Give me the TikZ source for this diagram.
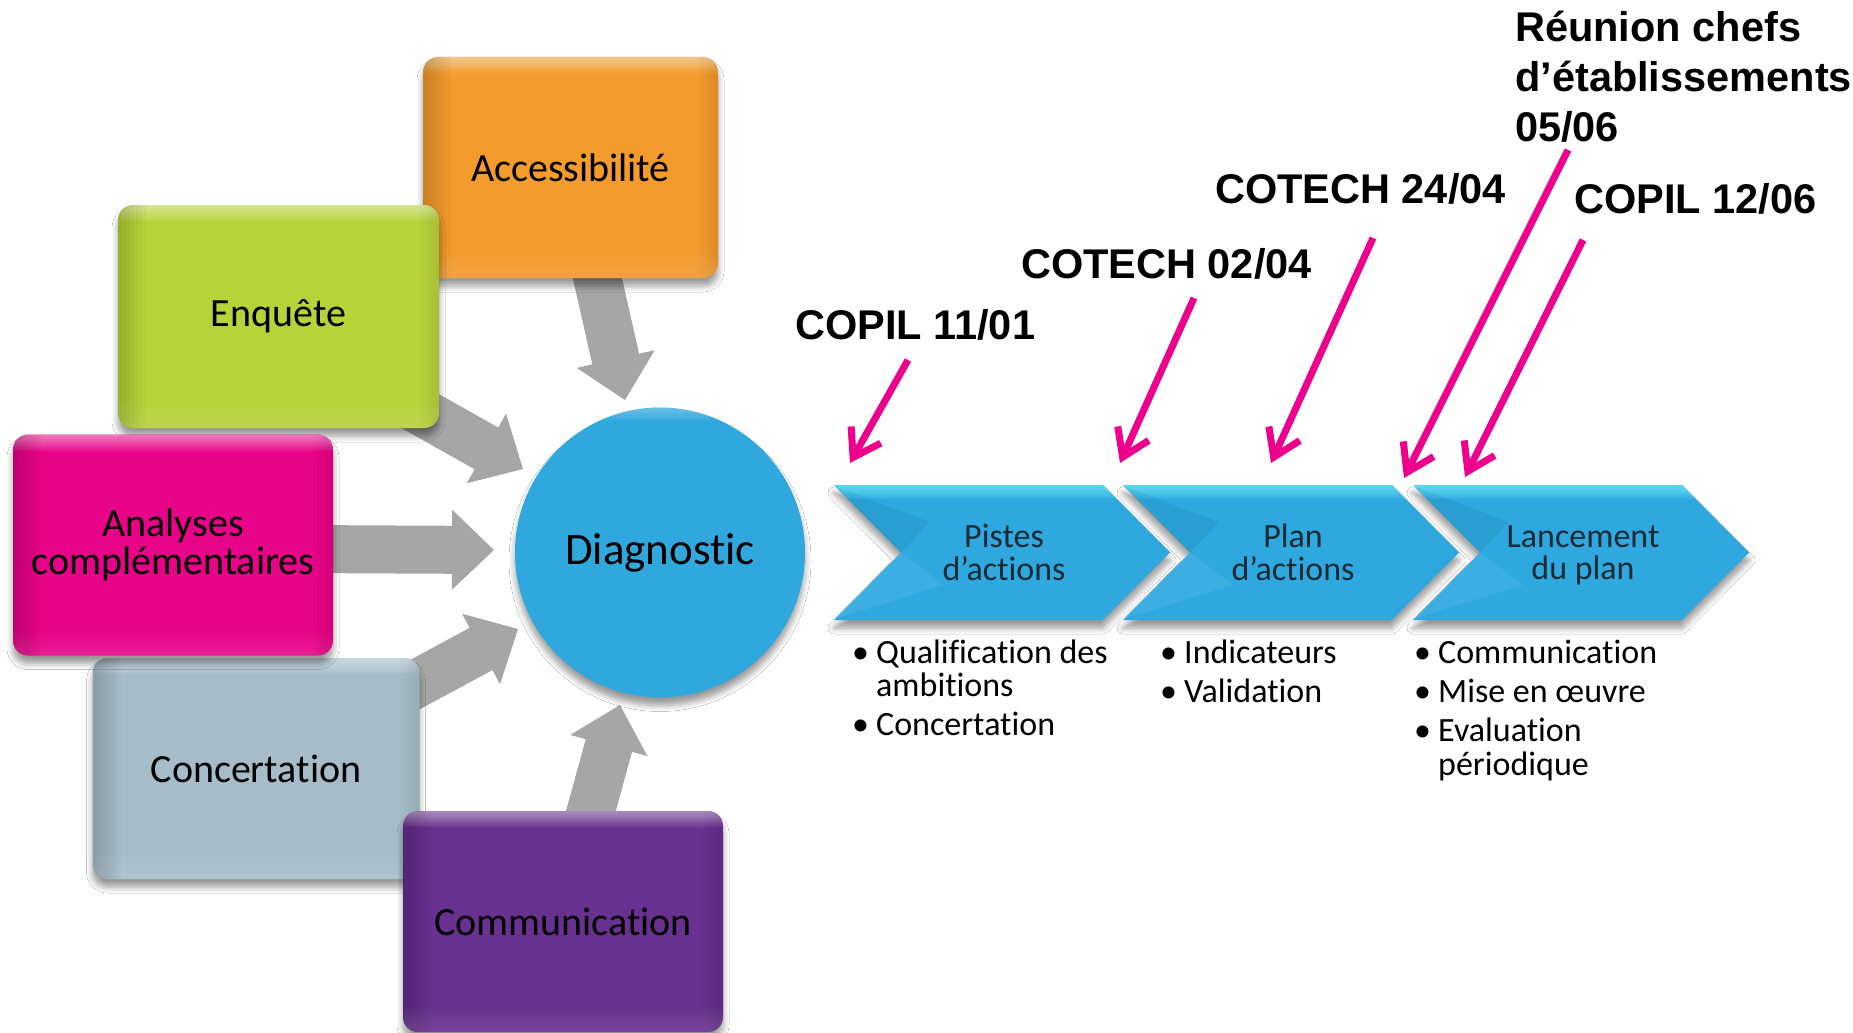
\documentclass[tikz,border=0pt]{standalone}
\usepackage{fontspec}
\setmainfont{Carlito}[Ligatures={NoCommon}]
\newfontfamily\lblfont{Liberation Sans}
\usetikzlibrary{arrows.meta,calc,shadows.blur}

\definecolor{cAcc}{RGB}{243,155,44}
\definecolor{cEnq}{RGB}{184,211,58}
\definecolor{cAna}{RGB}{232,4,137}
\definecolor{cCon}{RGB}{166,189,201}
\definecolor{cCom}{RGB}{104,48,143}
\definecolor{cDia}{RGB}{48,168,222}
\definecolor{cChev}{RGB}{46,168,223}
\definecolor{cChevHi}{RGB}{120,245,255}
\definecolor{cChevTxt}{RGB}{28,42,52}
\definecolor{cPink}{RGB}{236,0,140}
\definecolor{cGrey}{RGB}{166,166,166}

\newcommand\boxfont{\fontsize{40pt}{38pt}\selectfont}
\newcommand\diafont{\fontsize{45pt}{45pt}\selectfont}
\newcommand\chevfont{\fontsize{34pt}{31pt}\selectfont}
\newcommand\bulfont{\fontsize{34pt}{33pt}\selectfont}
\newcommand\lblsize{\lblfont\bfseries\fontsize{41.5pt}{50pt}\selectfont}
\newcommand\blt{\makebox[24pt][l]{\textbullet}}
\newcommand\fatarrow[2]{%
  \coordinate (#2-b) at ($(#2)!42pt!(#1)$);
  \fill[cGrey] ($(#1)!24pt!90:(#2)$) -- ($(#2-b)!24pt!90:(#2)$) -- ($(#2-b)!40pt!90:(#2)$) -- (#2)
     -- ($(#2-b)!40pt!-90:(#2)$) -- ($(#2-b)!24pt!-90:(#2)$) -- ($(#1)!24pt!-90:(#2)$) -- cycle;}
% bevel drawn as stacked translucent strips (a hand-made gradient)
\newcommand\bevel{%
  \foreach \h in {2,4,...,16}{\fill[white,opacity=.07] (path picture bounding box.north west) rectangle ([yshift=-\h pt]path picture bounding box.north east);}
  \foreach \h in {4,8,...,28}{\fill[black,opacity=.022] (path picture bounding box.north west) rectangle ([xshift=\h pt]path picture bounding box.south west);}
  \foreach \h in {4,8,...,20}{\fill[black,opacity=.015] ([xshift=-\h pt]path picture bounding box.north east) rectangle (path picture bounding box.south east);}
  \foreach \h in {4,8,...,24}{\fill[white,opacity=.02] ([yshift=\h pt]path picture bounding box.south west) rectangle (path picture bounding box.south east);}}

\begin{document}
\begin{tikzpicture}[x=1pt,y=-1pt,
  myshadow/.style={blur shadow={shadow xshift=0pt, shadow yshift=-8pt, shadow blur radius=6pt, shadow opacity=40, shadow blur steps=6}},
  gbox/.style={rounded corners=15pt, fill=#1, inner sep=0pt, font=\boxfont, align=center, myshadow,
    path picture={\begin{scope}[sharp corners]\bevel\end{scope}}},
  chev/.style={fill=cChev, myshadow,
    path picture={\foreach \h in {2,4,...,14}{\fill[cChevHi,opacity=.13] (path picture bounding box.north west) rectangle ([yshift=-\h pt]path picture bounding box.north east);}}},
  chevtxt/.style={anchor=base, inner sep=0pt, font=\chevfont, text=cChevTxt},
  bul/.style={anchor=base west, inner sep=0pt, font=\bulfont},
  lbl/.style={anchor=base west, inner sep=0pt, font=\lblsize},
  pinkarr/.style={draw=cPink, line width=7pt, -{Straight Barb[length=26pt,width=34pt]}}
]
\fill[white] (0,0) rectangle (1853,1033);
\useasboundingbox (0,0) rectangle (1853,1033);

% grey arrows (under the boxes)
\coordinate (acc-s) at (591,250);  \coordinate (acc-t) at (625,400);
\coordinate (enq-s) at (349,371);  \coordinate (enq-t) at (523,469);
\coordinate (ana-s) at (300,549);  \coordinate (ana-t) at (494,550);
\coordinate (con-s) at (342,724);  \coordinate (con-t) at (518,629);
\coordinate (com-s) at (567,898);  \coordinate (com-t) at (620,705);
\fatarrow{acc-s}{acc-t}
\fatarrow{enq-s}{enq-t}
\fatarrow{ana-s}{ana-t}
\fatarrow{con-s}{con-t}
\fatarrow{com-s}{com-t}

% boxes
\node[gbox=cAcc, minimum width=295pt, minimum height=221pt] (acc) at (570.5,167.5) {Accessibilité};
\node[gbox=cEnq, minimum width=321pt, minimum height=223pt] (enq) at (278.5,316.5) {Enquête};
\node[gbox=cCon, minimum width=327pt, minimum height=221pt] (con) at (256,768.5) {Concertation};
\node[gbox=cAna, minimum width=320pt, minimum height=221pt] (ana) at (173,545) {Analyses\\complémentaires};
\node[gbox=cCom, minimum width=320pt, minimum height=221pt] (com) at (563,921.5) {Communication};

% centre circle
\node[circle, fill=cDia, minimum size=290pt, inner sep=0pt, font=\diafont, myshadow,
  path picture={\foreach \h in {2,4,...,12}{\fill[white,opacity=.05] (path picture bounding box.north west) rectangle ([yshift=-\h pt]path picture bounding box.north east);}}]
  (dia) at (660,552.5) {Diagnostic};

% chevrons
\foreach \L in {834,1123,1413}{
  \path[chev] (\L,485) -- ++(269,0) -- ++(67,67.5) -- ++(-67,67.5) -- ++(-269,0) -- ++(67,-67.5) -- cycle;
  \fill[black, opacity=0.06] (\L,486) -- (\L+96,522) -- (\L+67,552.5) -- cycle;
  \fill[white, opacity=0.07] (\L,619) -- (\L+67,552.5) -- (\L+110,585) -- cycle;
}
\node[chevtxt] (ch1) at (1004,547) {\begin{tabular}[t]{@{}c@{}}Pistes\\d’actions\end{tabular}};
\node[chevtxt] (ch2) at (1293,547) {\begin{tabular}[t]{@{}c@{}}Plan\\d’actions\end{tabular}};
\node[chevtxt] (ch3) at (1583,547) {\begin{tabular}[t]{@{}c@{}}Lancement\\du plan\end{tabular}};

% bullet lists
\node[bul] (l1) at (852,663) {\begin{tabular}[t]{@{}l@{}}\blt Qualification des\\\hspace*{24pt}ambitions\\[6pt]\blt Concertation\end{tabular}};
\node[bul] (l2) at (1160,663) {\begin{tabular}[t]{@{}l@{}}\blt Indicateurs\\[6pt]\blt Validation\end{tabular}};
\node[bul] (l3) at (1414,663) {\begin{tabular}[t]{@{}l@{}}\blt Communication\\[6pt]\blt Mise en œuvre\\[6pt]\blt Evaluation\\\hspace*{24pt}périodique\end{tabular}};

% milestone labels
\node[lbl] (copil1) at (795,339) {COPIL 11/01};
\node[lbl] (cotech1) at (1021,278) {COTECH 02/04};
\node[lbl] (cotech2) at (1215,203) {COTECH 24/04};
\node[lbl] (copil2) at (1574,213) {COPIL 12/06};
\node[lbl] (reunion) at (1515,41.7) {\begin{tabular}[t]{@{}l@{}}Réunion chefs\\d’établissements\\05/06\end{tabular}};

% pink arrows
\coordinate (p1s) at (908,360);  \coordinate (p1t) at (850,463);
\coordinate (p2s) at (1194,298); \coordinate (p2t) at (1120,463);
\coordinate (p3s) at (1373,238); \coordinate (p3t) at (1271,463);
\coordinate (p4s) at (1568,150); \coordinate (p4t) at (1404,478);
\coordinate (p5s) at (1583,240); \coordinate (p5t) at (1465,477);
\draw[pinkarr] (p1s) -- (p1t);
\draw[pinkarr] (p2s) -- (p2t);
\draw[pinkarr] (p3s) -- (p3t);
\draw[pinkarr] (p4s) -- (p4t);
\draw[pinkarr] (p5s) -- (p5t);
\end{tikzpicture}
\end{document}
